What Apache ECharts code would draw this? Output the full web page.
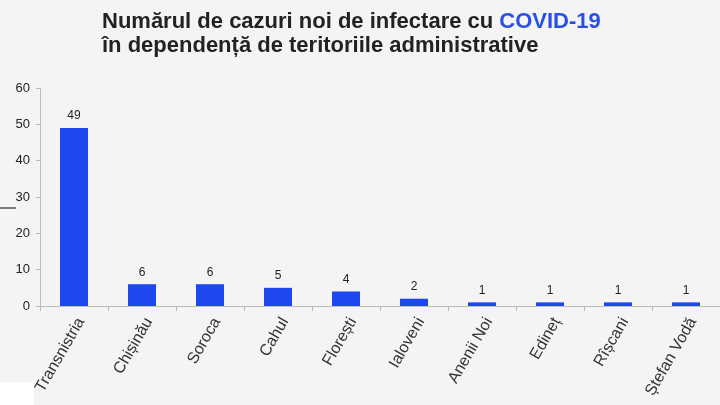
<!DOCTYPE html>
<html><head><meta charset="utf-8">
<script src="https://cdn.jsdelivr.net/npm/echarts@6/dist/echarts.min.js"></script>
<style>html,body{margin:0;padding:0;background:#f4f4f4}#c{width:720px;height:405px}</style>
</head><body><div id="c"></div>
<script>
const categories = ['Transnistria','Chișinău','Soroca','Cahul','Florești','Ialoveni','Anenii Noi','Edineț','Rîșcani','Ștefan Vodă'];
const cases = [49,6,6,5,4,2,1,1,1,1];
const yTicks = [0,10,20,30,40,50,60];

const chart = echarts.init(document.getElementById('c'));
chart.setOption({
  backgroundColor:'#f4f4f4',
  animation:false,
  title:{
    left:97, top:5,
    text:'{a|Numărul de cazuri noi de infectare cu }{b|COVID-19}\n{a|în dependență de teritoriile administrative}',
    textStyle:{
      rich:{
        a:{fontFamily:'Liberation Sans, Arial',fontWeight:'bold',fontSize:22,color:'#222',lineHeight:24},
        b:{fontFamily:'Liberation Sans, Arial',fontWeight:'bold',fontSize:22,color:'#2a4fe6',lineHeight:24}
      }
    }
  },
  grid:{left:40,right:-6,top:88,bottom:99,containLabel:false},
  xAxis:{
    type:'category',data:categories,
    axisLine:{lineStyle:{color:'#bbb'}},
    axisTick:{show:true,lineStyle:{color:'#bbb'},length:5},
    axisLabel:{rotate:60,fontFamily:'Liberation Sans, Arial',fontSize:16,color:'#333',margin:9,verticalAlign:'top'}
  },
  yAxis:{
    type:'value',min:0,max:60,interval:10,
    axisLine:{show:true,lineStyle:{color:'#bbb'}},
    axisTick:{show:true,length:4,lineStyle:{color:'#bbb'}},
    splitLine:{show:false},
    axisLabel:{fontFamily:'Liberation Sans, Arial',fontSize:13,color:'#222',margin:10}
  },
  series:[{
    type:'bar',data:cases,barWidth:28,
    itemStyle:{color:'#1f47f0'},
    label:{show:true,position:'top',fontFamily:'Liberation Sans, Arial',fontSize:12,color:'#222',distance:6}
  }],
  graphic:[
    {type:'line',shape:{x1:0,y1:208,x2:16,y2:208},style:{stroke:'#555',lineWidth:1.5}},
    {type:'rect',shape:{x:0,y:382,width:34,height:23},style:{fill:'#fff'}}
  ]
});
</script></body></html>
